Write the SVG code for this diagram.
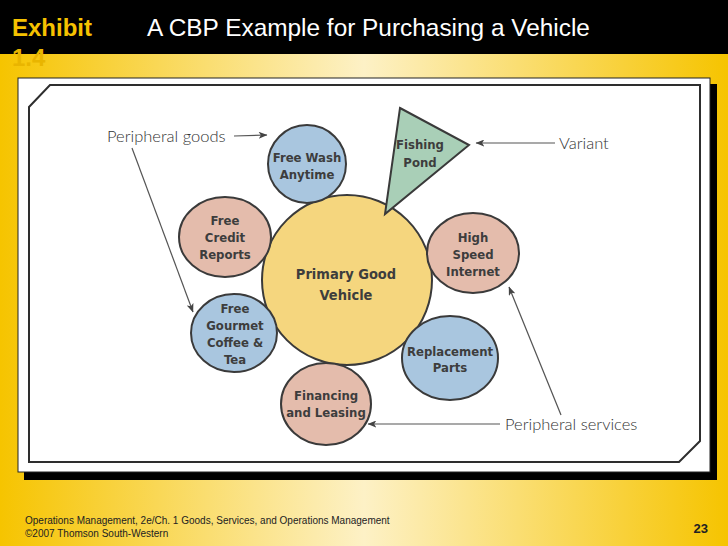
<svg xmlns="http://www.w3.org/2000/svg" width="728" height="546" viewBox="0 0 728 546">
<defs>
<linearGradient id="bg" x1="0" y1="0" x2="1" y2="0">
<stop offset="0" stop-color="#F6C400"/>
<stop offset="0.5" stop-color="#FDF1C6"/>
<stop offset="1" stop-color="#F6C400"/>
</linearGradient>
<marker id="ah" viewBox="0 0 10 8" refX="9.5" refY="4" markerWidth="9" markerHeight="7" markerUnits="userSpaceOnUse" orient="auto">
<path d="M0,0 L10,4 L0,8 L2.5,4 Z" fill="#444"/>
</marker>
<style>
.node{stroke:#3a3a3a;stroke-width:2}
.blue{fill:#A9C6DF}
.pink{fill:#E4BCAC}
.yellow{fill:#F5D67E}
.green{fill:#A9CFB7}
.nt{font-family:'DejaVu Sans Condensed','DejaVu Sans',sans-serif;font-stretch:condensed;font-weight:bold;font-size:13px;fill:#3d3d3d;text-anchor:middle}
.big{font-size:14.5px}
.lbl{font-family:Lato,'Liberation Sans',sans-serif;font-weight:300;font-size:16.5px;fill:#333}
.con{stroke:#555;stroke-width:1.2;fill:none}
</style>
</defs>
<rect x="0" y="0" width="728" height="546" fill="url(#bg)"/>
<rect x="0" y="0" width="728" height="54" fill="#000"/>
<text x="12" y="36" font-family="'Liberation Sans',Arial,sans-serif" font-weight="bold" font-size="24" fill="#F5C200">Exhibit</text>
<text x="12" y="66" font-family="'Liberation Sans',Arial,sans-serif" font-weight="bold" font-size="24" fill="#E9B500">1.4</text>
<text x="147" y="36" font-family="'Liberation Sans',Arial,sans-serif" font-size="24.4" fill="#fff">A CBP Example for Purchasing a Vehicle</text>
<rect x="24" y="84" width="693" height="396" fill="#000"/>
<rect x="18" y="78" width="692" height="394" fill="#fff" stroke="#222" stroke-width="1"/>
<polygon points="29,107 50,85 700,85 700,441 679,462 29,462" fill="#fff" stroke="#2e2e2e" stroke-width="2"/>
<g id="connectors">
<line class="con" x1="234" y1="136" x2="267" y2="135" marker-end="url(#ah)"/>
<line class="con" x1="132" y1="148" x2="193" y2="312" marker-end="url(#ah)"/>
<line class="con" x1="555" y1="143" x2="476" y2="143" marker-end="url(#ah)"/>
<line class="con" x1="500" y1="424" x2="368" y2="424" marker-end="url(#ah)"/>
<line class="con" x1="561" y1="415" x2="509" y2="287" marker-end="url(#ah)"/>
</g>
<g id="primary">
<circle class="node yellow" cx="347" cy="280" r="85"/>
<text class="nt big" x="346" y="279">Primary Good</text>
<text class="nt big" x="346" y="300">Vehicle</text>
</g>
<g id="freewash">
<ellipse class="node blue" cx="307" cy="164" rx="39" ry="39"/>
<text class="nt" x="307" y="162">Free Wash</text>
<text class="nt" x="307" y="179">Anytime</text>
</g>
<g id="credit">
<ellipse class="node pink" cx="225" cy="237" rx="46" ry="40"/>
<text class="nt" x="225" y="225">Free</text>
<text class="nt" x="225" y="242">Credit</text>
<text class="nt" x="225" y="259">Reports</text>
</g>
<g id="fishing">
<polygon class="node green" points="400,108 469,145 385,214"/>
<text class="nt" x="420" y="149">Fishing</text>
<text class="nt" x="420" y="167">Pond</text>
</g>
<g id="internet">
<ellipse class="node pink" cx="473" cy="253" rx="46" ry="40"/>
<text class="nt" x="473" y="242">High</text>
<text class="nt" x="473" y="259">Speed</text>
<text class="nt" x="473" y="276">Internet</text>
</g>
<g id="coffee">
<ellipse class="node blue" cx="234" cy="333" rx="43" ry="39"/>
<text class="nt" x="235" y="313">Free</text>
<text class="nt" x="235" y="330">Gourmet</text>
<text class="nt" x="235" y="347">Coffee &amp;</text>
<text class="nt" x="235" y="364">Tea</text>
</g>
<g id="parts">
<ellipse class="node blue" cx="450" cy="358" rx="48" ry="42"/>
<text class="nt" x="450" y="356">Replacement</text>
<text class="nt" x="450" y="372">Parts</text>
</g>
<g id="financing">
<ellipse class="node pink" cx="326" cy="404" rx="45" ry="41"/>
<text class="nt" x="326" y="400">Financing</text>
<text class="nt" x="326" y="417">and Leasing</text>
</g>
<g id="labels">
<text class="lbl" x="107" y="142">Peripheral goods</text>
<text class="lbl" x="559" y="149">Variant</text>
<text class="lbl" x="505" y="430">Peripheral services</text>
</g>
<text x="25" y="524" font-family="'Liberation Sans',Arial,sans-serif" font-size="10" fill="#222">Operations Management, 2e/Ch. 1 Goods, Services, and Operations Management</text>
<text x="25" y="537" font-family="'Liberation Sans',Arial,sans-serif" font-size="10" fill="#222">©2007 Thomson South-Western</text>
<text x="708" y="533" text-anchor="end" font-family="'Liberation Sans',Arial,sans-serif" font-weight="bold" font-size="13" fill="#222">23</text>
</svg>
